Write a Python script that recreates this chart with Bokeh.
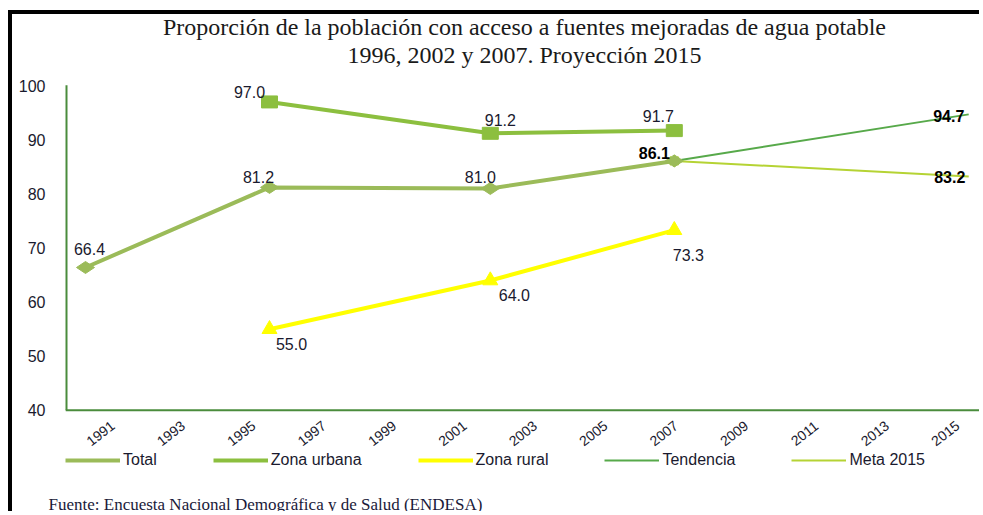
import math
from bokeh.plotting import figure
from bokeh.models import FixedTicker, Label, Legend, LegendItem, Title, Range1d
from bokeh.embed import file_html
from bokeh.resources import INLINE
from bokeh.core.properties import value

# ---------------- data ----------------
title_line1 = "Proporción de la población con acceso a fuentes mejoradas de agua potable"
title_line2 = "1996, 2002 y 2007. Proyección 2015"
source_note = "Fuente: Encuesta Nacional Demográfica y de Salud (ENDESA)"

x_tick_years = [1991, 1993, 1995, 1997, 1999, 2001, 2003, 2005, 2007, 2009, 2011, 2013, 2015]
y_ticks = [40, 50, 60, 70, 80, 90, 100]

total_years = [1991, 1996, 2002, 2007]
total_vals = [66.4, 81.2, 81.0, 86.1]

urbana_years = [1996, 2002, 2007]
urbana_vals = [97.0, 91.2, 91.7]

rural_years = [1996, 2002, 2007]
rural_vals = [55.0, 64.0, 73.3]

tend_years = [2007, 2015]
tend_vals = [86.1, 94.7]

meta_years = [2007, 2015]
meta_vals = [86.1, 83.2]

series_names = ["Total", "Zona urbana", "Zona rural", "Tendencia", "Meta 2015"]

# ---------------- styles / layout ----------------
C_TOTAL = "#9bbb59"
C_URB = "#8cbf3f"
C_RUR = "#ffff00"
C_TEND = "#57a94a"
C_META = "#b5d334"
C_AXIS = "#4a8c3c"
C_TXT = "#1a1a2e"
SANS = "Liberation Sans"
SERIF = "Liberation Serif"

X_LO, X_HI = 1990.4565, 2015.402          # data scale of the series
TICK_LO, TICK_HI = 1990.0057, 2016.085    # category-label scale (labels are spaced a bit tighter)
Y_LO, Y_HI = 25.0, 113.157                # frame also holds the title band
Y_AXIS_TOP = 100.09

total_off = [(4, -18), (-11, -10), (-10, -11), (-20, -8)]
urb_off = [(-20, -10), (10, -13), (-16, -15)]
rur_off = [(22, 15), (24, 15), (14, 25)]

p = figure(width=971, height=501, title=None,
           x_range=(X_LO, X_HI), y_range=(Y_LO, Y_HI),
           output_backend="svg", toolbar_location=None,
           min_border_left=53, min_border_right=0, min_border_top=0, min_border_bottom=22,
           background_fill_color="white", border_fill_color="white",
           outline_line_color=None)
p.extra_x_ranges = {"ticks": Range1d(TICK_LO, TICK_HI)}
p.styles = {"border-top": "4px solid black", "border-left": "4px solid black",
            "margin-left": "8px", "margin-top": "10px"}

# two-line title, centred over the plot area
for txt, dy in ((title_line1, -12), (title_line2, -40)):
    p.add_layout(Label(x=(X_LO + X_HI) / 2, y=Y_HI, y_offset=dy, text=txt,
                       text_align="center", text_baseline="alphabetic",
                       text_font=SERIF, text_font_size="24px", text_color="#1a1a1a"))

p.xgrid.visible = False
p.ygrid.visible = False
p.xaxis.visible = False

# y axis (labels only; axis line drawn as a segment from 40 to the top of the value band)
p.yaxis.ticker = FixedTicker(ticks=y_ticks)
p.yaxis.axis_line_color = None
p.yaxis.major_tick_line_color = None
p.yaxis.minor_tick_line_color = None
p.yaxis.major_label_standoff = 14
p.yaxis.major_label_text_font = SANS
p.yaxis.major_label_text_font_size = "16px"
p.yaxis.major_label_text_color = C_TXT

p.segment(x0=[X_LO], y0=[y_ticks[0]], x1=[X_LO], y1=[Y_AXIS_TOP], line_color=C_AXIS, line_width=4)
p.segment(x0=[X_LO], y0=[y_ticks[0]], x1=[X_HI], y1=[y_ticks[0]], line_color=C_AXIS, line_width=2)

for yr in x_tick_years:
    p.add_layout(Label(x=yr, y=y_ticks[0], x_range_name="ticks", text=str(yr),
                       angle=38, angle_units="deg",
                       text_align="center", text_baseline="middle",
                       x_offset=0, y_offset=-23,
                       text_font=SANS, text_font_size="14px", text_color=C_TXT))

# lines
r_tend = p.line(tend_years, tend_vals, line_color=C_TEND, line_width=2)
r_meta = p.line(meta_years, meta_vals, line_color=C_META, line_width=2)
p.scatter(meta_years[:1], meta_vals[:1], marker="asterisk", size=12, line_color=C_META, line_width=2)

r_total = p.line(total_years, total_vals, line_color=C_TOTAL, line_width=4)
p.scatter(total_years, total_vals, marker="diamond", size=18, angle=math.pi / 2,
          fill_color=C_TOTAL, line_color=C_TOTAL)

r_urb = p.line(urbana_years, urbana_vals, line_color=C_URB, line_width=4)
p.rect(urbana_years, urbana_vals, width=16, height=12, width_units="screen", height_units="screen",
       fill_color=C_URB, line_color=C_URB)

r_rur = p.line(rural_years, rural_vals, line_color=C_RUR, line_width=4)
p.scatter(rural_years, rural_vals, marker="triangle", size=15, fill_color=C_RUR, line_color=C_RUR)

# data labels
def add_labels(xs, ys, offs, bold_last=False, color=C_TXT):
    for i, (x, y) in enumerate(zip(xs, ys)):
        bold = bold_last and i == len(xs) - 1
        p.text([x], [y], text=[f"{y:.1f}"], x_offset=offs[i][0], y_offset=offs[i][1],
               text_align="center", text_baseline="middle",
               text_font=value(SANS), text_font_size="16px",
               text_font_style="bold" if bold else "normal",
               text_color="#000000" if bold else color)

add_labels(total_years, total_vals, total_off, bold_last=True)
add_labels(urbana_years, urbana_vals, urb_off)
add_labels(rural_years, rural_vals, rur_off)
add_labels(tend_years[1:], tend_vals[1:], [(-20, 2)], bold_last=True)
add_labels(meta_years[1:], meta_vals[1:], [(-19, 0)], bold_last=True)

legend = Legend(items=[LegendItem(label=series_names[0], renderers=[r_total]),
                       LegendItem(label=series_names[1], renderers=[r_urb]),
                       LegendItem(label=series_names[2], renderers=[r_rur]),
                       LegendItem(label=series_names[3], renderers=[r_tend]),
                       LegendItem(label=series_names[4], renderers=[r_meta])],
                orientation="horizontal", location=(0, 21),
                glyph_width=55, glyph_height=20, label_standoff=3, spacing=56,
                padding=0, margin=0, border_line_color=None, background_fill_alpha=0,
                label_text_font=SANS, label_text_font_size="16px", label_text_color=C_TXT)
p.add_layout(legend, "center")

foot = Title(text=source_note, align="left", offset=-17, standoff=3,
             text_font=SERIF, text_font_size="17px", text_font_style="normal",
             text_color="#1a1a3a")
p.add_layout(foot, "below")

open("out.html", "w").write(file_html(p, INLINE))
